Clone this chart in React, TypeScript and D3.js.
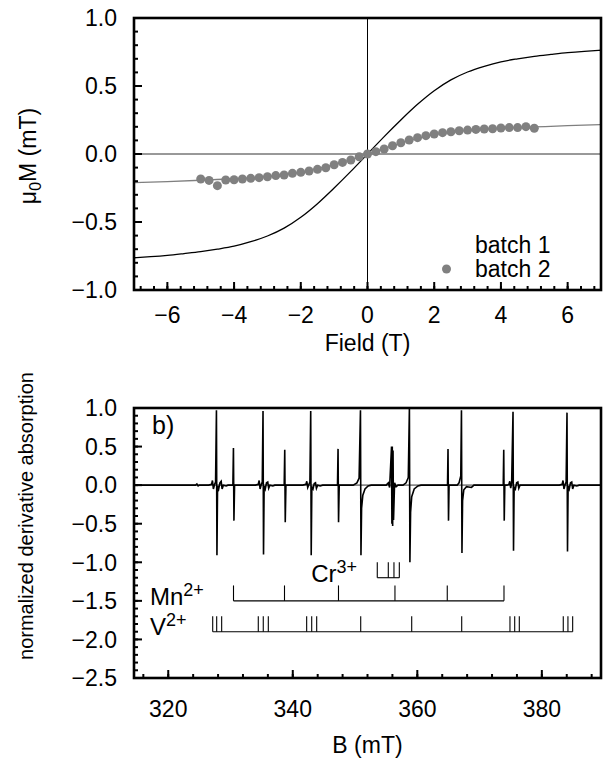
import React from 'react';
import * as d3 from 'd3';

const FONT = '"Liberation Sans", Arial, Helvetica, sans-serif';

// ---------- Panel a: magnetization ----------
const batch1Field = [-7, -6.5, -6, -5.5, -5, -4.5, -4, -3.5, -3, -2.5, -2, -1.5, -1, -0.5, 0, 0.5, 1, 1.5, 2, 2.5, 3, 3.5, 4, 4.5, 5, 5.5, 6, 6.5, 7];
const batch1Moment = [-0.763, -0.755, -0.745, -0.732, -0.718, -0.700, -0.678, -0.645, -0.603, -0.545, -0.465, -0.365, -0.250, -0.128, 0, 0.128, 0.250, 0.365, 0.465, 0.545, 0.603, 0.645, 0.678, 0.700, 0.718, 0.732, 0.745, 0.755, 0.763];

const batch2Field = [-5, -4.75, -4.5, -4.25, -4, -3.75, -3.5, -3.25, -3, -2.75, -2.5, -2.25, -2, -1.75, -1.5, -1.25, -1, -0.75, -0.5, -0.25, 0, 0.25, 0.5, 0.75, 1, 1.25, 1.5, 1.75, 2, 2.25, 2.5, 2.75, 3, 3.25, 3.5, 3.75, 4, 4.25, 4.5, 4.75, 5];
const batch2Moment = [-0.184, -0.194, -0.233, -0.191, -0.189, -0.184, -0.179, -0.174, -0.167, -0.159, -0.154, -0.142, -0.135, -0.125, -0.113, -0.101, -0.079, -0.062, -0.044, -0.020, 0, 0.017, 0.037, 0.061, 0.083, 0.103, 0.120, 0.135, 0.147, 0.157, 0.164, 0.171, 0.176, 0.181, 0.184, 0.186, 0.191, 0.194, 0.194, 0.201, 0.189];

const batch2FitField = [-7, -6, -5, -4, -3, -2, -1.5, -1, -0.5, 0, 0.5, 1, 1.5, 2, 3, 4, 5, 6, 7];
const batch2FitMoment = [-0.211, -0.203, -0.193, -0.182, -0.166, -0.133, -0.108, -0.078, -0.041, 0, 0.041, 0.080, 0.115, 0.143, 0.174, 0.190, 0.199, 0.208, 0.216];

const fieldTickLabels = ['−6', '−4', '−2', '0', '2', '4', '6'];
const fieldTickValues = [-6, -4, -2, 0, 2, 4, 6];
const momentTickValues = [1, 0.5, 0, -0.5, -1];
const momentTickLabels = ['1.0', '0.5', '0.0', '−0.5', '−1.0'];
const legendLabels = ['batch 1', 'batch 2'];

// ---------- Panel b: EPR spectrum ----------
// trace vertices: [B (mT), normalized derivative absorption]
const eprB = [
  314.5, 324.4, 324.6, 324.8, 325.0,
  326.5, 326.95, 327.1, 327.25, 327.45, 327.6, 327.74, 327.82, 327.92, 328.1, 328.3, 328.5, 328.65, 328.85, 329.3, 329.6,
  330.38, 330.47, 330.55, 330.65,
  334.0, 334.45, 334.6, 334.75, 334.95, 335.1, 335.22, 335.3, 335.4, 335.58, 335.78, 335.98, 336.13, 336.33, 336.8, 337.1,
  338.62, 338.71, 338.79, 338.9,
  341.6, 342.1, 342.25, 342.4, 342.6, 342.75, 342.88, 342.96, 343.06, 343.25, 343.45, 343.65, 343.8, 344.0, 344.4, 344.8,
  347.18, 347.27, 347.35, 347.46,
  349.7, 350.3, 350.65, 350.87, 350.95, 351.05, 351.25, 351.6, 352.1, 352.6,
  355.0, 355.35, 355.55, 355.86, 355.92, 355.98, 356.04, 356.1, 356.18, 356.35, 356.6, 356.9,
  357.7, 358.2, 358.55, 358.73, 358.81, 358.92, 359.1, 359.5, 360.1, 360.6,
  364.85, 364.93, 365.01, 365.1,
  366.4, 366.7, 366.98, 367.09, 367.17, 367.27, 367.47, 367.9, 368.7, 369.1,
  373.8, 373.88, 373.96, 374.05,
  374.4, 374.7, 374.85, 375.0, 375.15, 375.37, 375.45, 375.55, 375.75, 375.95, 376.15, 376.3, 376.5, 377.0,
  382.8, 383.25, 383.4, 383.55, 383.75, 383.9, 384.04, 384.12, 384.22, 384.4, 384.6, 384.8, 384.95, 385.15, 385.6, 386.0,
  389.5,
];
const eprSignal = [
  0, 0, 0.015, -0.01, 0,
  0, 0.01, 0.06, -0.05, 0.01, 0.04, 0.97, -0.91, -0.01, -0.05, 0.03, 0.05, -0.05, 0, -0.01, 0,
  0, 0.48, -0.46, 0,
  0, 0.01, 0.06, -0.05, 0.01, 0.04, 0.96, -0.90, -0.01, -0.05, 0.03, 0.04, -0.04, 0, -0.01, 0,
  0, 0.46, -0.48, 0,
  0, 0.01, 0.05, -0.03, 0.01, 0.04, 0.96, -0.91, -0.02, -0.05, 0.02, 0.03, -0.04, 0, -0.01, 0,
  0, 0.47, -0.48, 0,
  0, 0.03, 0.09, 0.97, -0.91, -0.3, -0.13, -0.05, -0.01, 0,
  0, 0.03, -0.03, 0.50, -0.50, 0.50, -0.53, 0.45, -0.45, 0.03, -0.02, 0,
  0, 0.03, 0.10, 1.0, -1.0, -0.35, -0.15, -0.05, -0.01, 0,
  0, 0.47, -0.46, 0,
  0, 0.03, 0.12, 0.97, -0.88, -0.2, -0.06, -0.02, -0.03, 0,
  0, 0.46, -0.46, 0,
  0, 0.01, 0.05, -0.04, 0.03, 0.95, -0.85, -0.02, -0.05, 0.03, 0.04, -0.04, 0, 0,
  0, 0.01, 0.06, -0.05, 0.01, 0.04, 0.94, -0.86, -0.01, -0.05, 0.03, 0.04, -0.05, 0, -0.01, 0,
  0,
];

// stick diagrams (line positions in mT)
const crSticks = [353.57, 355.34, 356.25, 357.11];
const mnSticks = [330.48, 338.67, 347.34, 356.41, 364.81, 373.92];
const vSticks = [
  327.14, 327.78, 328.58,
  334.46, 335.26, 336.07,
  342.23, 343.04, 343.84,
  350.91, 359.10, 367.13,
  374.88, 375.64, 376.38,
  383.44, 384.19, 384.95,
];
// stick diagram levels (baseline, top) in data units
const crLevel = [-1.2, -1.0];
const mnLevel = [-1.5, -1.3];
const vLevel = [-1.9, -1.7];

const bTickValues = [320, 340, 360, 380];
const bTickLabels = ['320', '340', '360', '380'];
const sigTickValues = [1, 0.5, 0, -0.5, -1, -1.5, -2, -2.5];
const sigTickLabels = ['1.0', '0.5', '0.0', '−0.5', '−1.0', '−1.5', '−2.0', '−2.5'];

export default function App() {
  const L = 134, R = 601;
  // panel a
  const xT = d3.scaleLinear().domain([-7, 7]).range([L, R]);
  const yT = d3.scaleLinear().domain([-1, 1]).range([290, 18]);
  // panel b
  const xB = d3.scaleLinear().domain([314.5, 389.5]).range([L, R]);
  const yB = d3.scaleLinear().domain([-2.5, 1]).range([678, 408]);

  const smooth = d3.line<[number, number]>().x(d => xT(d[0])).y(d => yT(d[1])).curve(d3.curveMonotoneX);
  const b1 = smooth(batch1Field.map((f, i) => [f, batch1Moment[i]]));
  const fit = smooth(batch2FitField.map((f, i) => [f, batch2FitMoment[i]]));
  const spec = d3.line<[number, number]>().x(d => xB(d[0])).y(d => yB(d[1]))(eprB.map((b, i) => [b, eprSignal[i]]));

  const tickSW = 2;
  const major = 8, minor = 4;
  const fs = 23;

  const topMinorX = d3.range(-6.8, 7, 0.4);
  const topMinorY = d3.range(-10, 11).map(v => v / 10);
  const botMinorX = d3.range(316, 390, 4);
  const botMinorY = d3.range(-25, 11).map(v => v / 10);

  const sticks = (pos: number[], lvl: number[], key: string) => (
    <g key={key} stroke="#000" strokeWidth={1.1}>
      <line x1={xB(d3.min(pos)!)} x2={xB(d3.max(pos)!)} y1={yB(lvl[0])} y2={yB(lvl[0])} />
      {pos.map((p, i) => (
        <line key={i} x1={xB(p)} x2={xB(p)} y1={yB(lvl[0])} y2={yB(lvl[1])} />
      ))}
    </g>
  );

  return (
    <svg width={606} height={762} style={{ position: 'absolute', left: 0, top: 0, background: '#fff' }} fontFamily={FONT}>
      <rect x={0} y={0} width={606} height={762} fill="#fff" />
      {/* ===== Panel a ===== */}
      <g>
        <line x1={xT(0)} x2={xT(0)} y1={yT(1)} y2={yT(-1)} stroke="#000" strokeWidth={1} />
        <line x1={L} x2={R} y1={yT(0)} y2={yT(0)} stroke="#333" strokeWidth={1} />
        <path d={b1 || ''} fill="none" stroke="#000" strokeWidth={1.3} />
        <path d={fit || ''} fill="none" stroke="#7f7f7f" strokeWidth={1.3} />
        {batch2Field.map((f, i) => (
          <circle key={i} cx={xT(f)} cy={yT(batch2Moment[i])} r={4.5} fill="#808080" />
        ))}
        {/* legend */}
        <text x={475} y={253} fontSize={23}>{legendLabels[0]}</text>
        <circle cx={446.5} cy={269} r={4.5} fill="#808080" />
        <text x={475} y={277} fontSize={23}>{legendLabels[1]}</text>
        {/* ticks */}
        <g stroke="#000" strokeWidth={tickSW}>
          {topMinorX.map((v, i) => (
            <line key={'tx' + i} x1={xT(v)} x2={xT(v)} y1={yT(-1)} y2={yT(-1) - minor} />
          ))}
          {fieldTickValues.map((v, i) => (
            <line key={'tX' + i} x1={xT(v)} x2={xT(v)} y1={yT(-1)} y2={yT(-1) - major} />
          ))}
          {topMinorY.map((v, i) => (
            <line key={'ty' + i} x1={L} x2={L + minor} y1={yT(v)} y2={yT(v)} />
          ))}
          {momentTickValues.map((v, i) => (
            <line key={'tY' + i} x1={L} x2={L + major} y1={yT(v)} y2={yT(v)} />
          ))}
        </g>
        <rect x={L} y={yT(1)} width={R - L} height={yT(-1) - yT(1)} fill="none" stroke="#000" strokeWidth={2.6} />
        {fieldTickValues.map((v, i) => (
          <text key={'lx' + i} x={xT(v)} y={323} fontSize={fs} textAnchor="middle">{fieldTickLabels[i]}</text>
        ))}
        {momentTickValues.map((v, i) => (
          <text key={'ly' + i} x={117} y={yT(v)} dy="0.36em" fontSize={fs} textAnchor="end">{momentTickLabels[i]}</text>
        ))}
        <text x={xT(0)} y={351} fontSize={fs} textAnchor="middle">Field (T)</text>
        <text transform={`translate(36,156) rotate(-90)`} fontSize={fs} textAnchor="middle">
          μ<tspan fontSize={16} dy={5}>0</tspan><tspan dy={-5}>M (mT)</tspan>
        </text>
      </g>

      {/* ===== Panel b ===== */}
      <g>
        <line x1={L} x2={R} y1={yB(0)} y2={yB(0)} stroke="#888" strokeWidth={1.6} />
        <path d={spec || ''} fill="none" stroke="#000" strokeWidth={1.6} strokeLinejoin="miter" />
        {sticks(crSticks, crLevel, 'cr')}
        {sticks(mnSticks, mnLevel, 'mn')}
        {sticks(vSticks, vLevel, 'v')}
        <text x={357} y={yB(-1.26)} fontSize={24} textAnchor="end">
          Cr<tspan fontSize={18} dy={-9}>3+</tspan>
        </text>
        <text x={150} y={yB(-1.56)} fontSize={24}>
          Mn<tspan fontSize={18} dy={-9}>2+</tspan>
        </text>
        <text x={150} y={yB(-1.94)} fontSize={24}>
          V<tspan fontSize={18} dy={-9}>2+</tspan>
        </text>
        <text x={152} y={434} fontSize={25}>b)</text>
        <g stroke="#000" strokeWidth={tickSW}>
          {botMinorX.map((v, i) => (
            <line key={'bx' + i} x1={xB(v)} x2={xB(v)} y1={yB(-2.5)} y2={yB(-2.5) - minor} />
          ))}
          {bTickValues.map((v, i) => (
            <line key={'bX' + i} x1={xB(v)} x2={xB(v)} y1={yB(-2.5)} y2={yB(-2.5) - major} />
          ))}
          {botMinorY.map((v, i) => (
            <line key={'by' + i} x1={L} x2={L + minor} y1={yB(v)} y2={yB(v)} />
          ))}
          {sigTickValues.map((v, i) => (
            <line key={'bY' + i} x1={L} x2={L + major} y1={yB(v)} y2={yB(v)} />
          ))}
        </g>
        <rect x={L} y={yB(1)} width={R - L} height={yB(-2.5) - yB(1)} fill="none" stroke="#000" strokeWidth={2.6} />
        {bTickValues.map((v, i) => (
          <text key={'blx' + i} x={xB(v)} y={717} fontSize={fs} textAnchor="middle">{bTickLabels[i]}</text>
        ))}
        {sigTickValues.map((v, i) => (
          <text key={'bly' + i} x={117} y={yB(v)} dy="0.36em" fontSize={fs} textAnchor="end">{sigTickLabels[i]}</text>
        ))}
        <text x={xB(352)} y={753} fontSize={fs} textAnchor="middle">B (mT)</text>
        <text transform={`translate(33,516) rotate(-90)`} fontSize={20} textAnchor="middle">normalized derivative absorption</text>
      </g>
    </svg>
  );
}
